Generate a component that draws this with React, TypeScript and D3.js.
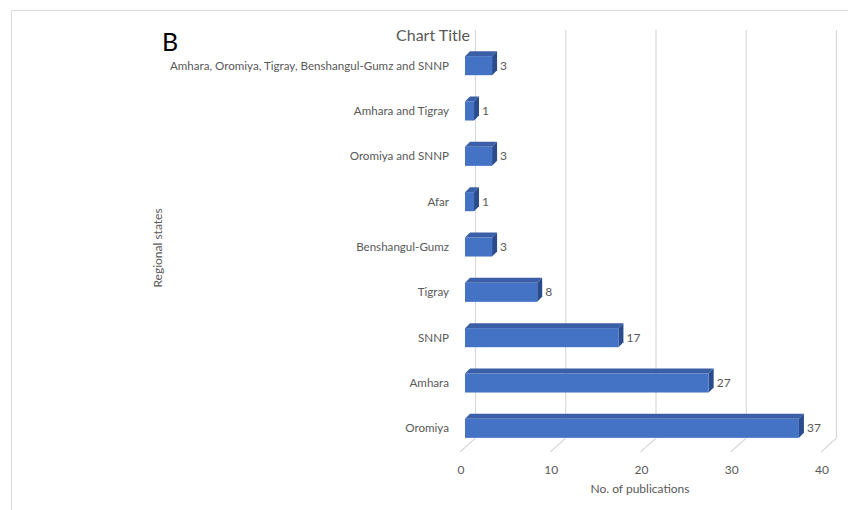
import React from "react";
import * as d3 from "d3";

const categories = [
  "Oromiya",
  "Amhara",
  "SNNP",
  "Tigray",
  "Benshangul-Gumz",
  "Afar",
  "Oromiya and SNNP",
  "Amhara and Tigray",
  "Amhara, Oromiya, Tigray, Benshangul-Gumz and SNNP",
];
const values = [37, 27, 17, 8, 3, 1, 3, 1, 3];
const xTicks = [0, 10, 20, 30, 40];

const W = 848;
const H = 510;
const FONT = "Lato, 'Open Sans', sans-serif";
const GREY = "#595959";

export default function App() {
  const x = d3.scaleLinear().domain([0, 40]).range([465, 826]);
  const y = d3
    .scaleBand<string>()
    .domain(categories)
    .range([451, 43])
    .paddingInner(0.58)
    .paddingOuter(0.29);
  const bw = y.bandwidth();
  const dx = 5;
  const dy = 5;
  const gridOff = 10.5;
  const gridTop = 30;
  const gridBottom = 438;

  return (
    <svg
      width={W}
      height={H}
      style={{ position: "absolute", left: 0, top: 0, background: "#fff" }}
      fontFamily={FONT}
    >
      {/* border */}
      <line x1={11.5} y1={10.5} x2={W} y2={10.5} stroke="#d9d9d9" />
      <line x1={11.5} y1={10.5} x2={11.5} y2={H} stroke="#d9d9d9" />

      {/* gridlines */}
      {xTicks.map((t) => (
        <g key={t}>
          <line
            x1={x(t) + gridOff}
            x2={x(t) + gridOff}
            y1={gridTop}
            y2={gridBottom}
            stroke="#d9d9d9"
            strokeWidth={1.2}
          />
          <line
            x1={x(t) + gridOff}
            y1={gridBottom}
            x2={x(t) - 5}
            y2={gridBottom + 14}
            stroke="#d9d9d9"
            strokeWidth={1.2}
          />
          <text
            x={x(t) - 4}
            y={474}
            textAnchor="middle"
            fontSize={12}
            fill={GREY}
          >
            {t}
          </text>
        </g>
      ))}

      {/* bars */}
      {categories.map((c, i) => {
        const y0 = y(c) as number;
        const x0 = x(0);
        const x1 = x(values[i]);
        return (
          <g key={c}>
            <polygon
              points={`${x0},${y0} ${x0 + dx},${y0 - dy} ${x1 + dx},${y0 - dy} ${x1},${y0}`}
              fill="#3A5FA6"
            />
            <polygon
              points={`${x1},${y0} ${x1 + dx},${y0 - dy} ${x1 + dx},${y0 + bw - dy} ${x1},${y0 + bw}`}
              fill="#2B4C8C"
            />
            <rect x={x0} y={y0} width={x1 - x0} height={bw} fill="#4472C4" />
            <text
              x={x1 + dx + 3}
              y={y0 + bw / 2 + 4}
              fontSize={12}
              fill={GREY}
            >
              {values[i]}
            </text>
            <text
              x={449}
              y={y0 + bw / 2 + 4}
              textAnchor="end"
              fontSize={11.6}
              fill={GREY}
            >
              {c}
            </text>
          </g>
        );
      })}

      {/* titles */}
      <text x={433} y={41} textAnchor="middle" fontSize={16} fill={GREY}>
        Chart Title
      </text>
      <text x={162} y={51} fontSize={25} fill="#000">
        B
      </text>
      <text
        transform={`translate(162,248) rotate(-90)`}
        textAnchor="middle"
        fontSize={12}
        fill={GREY}
      >
        Regional states
      </text>
      <text x={640} y={493} textAnchor="middle" fontSize={12} fill={GREY}>
        No. of publications
      </text>
    </svg>
  );
}
